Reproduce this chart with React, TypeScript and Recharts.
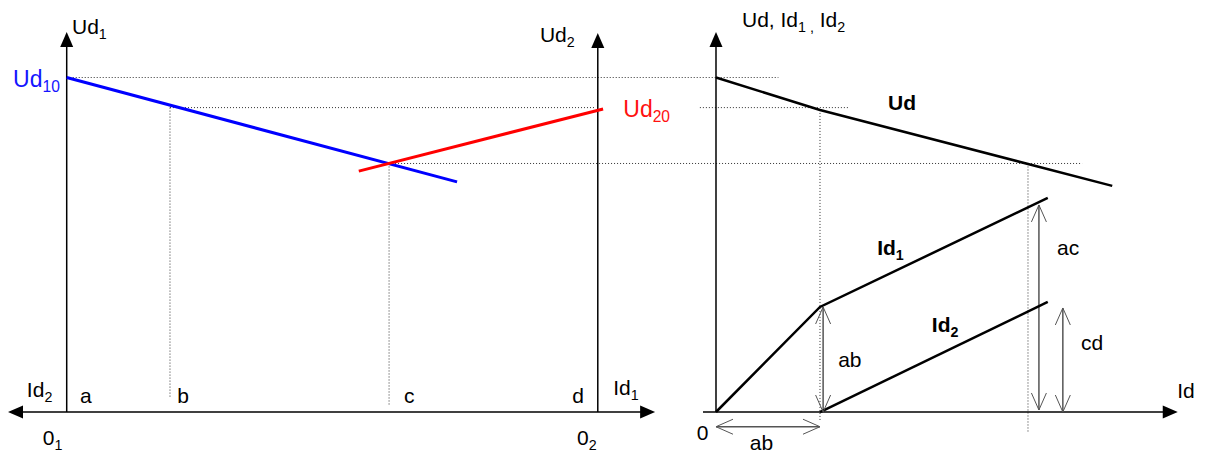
import React from "react";
import {
  ComposedChart,
  Line,
  ReferenceLine,
  Scatter,
  XAxis,
  YAxis,
} from "recharts";

// Shared vertical scale (Ud units), two horizontal scales: left panel (O1..O2) and right panel (Id)
const yDomain = [-1.405, 12.317];
const xLeftDomain = [-1.256, 21.49];
const xRightDomain = [-13.769, 9.4615];

// left panel characteristics
const ud1Line = [
  { x: 0, y: 10 },
  { x: 7.35, y: 6.88 },
];
const ud2Line = [
  { x: 5.5, y: 7.2 },
  { x: 10.1, y: 9.06 },
];

// right panel characteristics
const udLine = [
  { x: 0, y: 10 },
  { x: 2, y: 9.03 },
  { x: 7.62, y: 6.76 },
];
const id1Line = [
  { x: 0, y: 0 },
  { x: 2, y: 3.14 },
  { x: 6.38, y: 6.4 },
];
const id2Line = [
  { x: 2, y: 0 },
  { x: 6.38, y: 3.29 },
];

// axes, [from, to]
const leftAxes = [
  [{ x: -1.0, y: 0 }, { x: 11.0, y: 0 }],
  [{ x: 0, y: 0 }, { x: 0, y: 11.2 }],
  [{ x: 10, y: 0 }, { x: 10, y: 11.2 }],
];
const rightAxes = [
  [{ x: -0.25, y: 0 }, { x: 8.8, y: 0 }],
  [{ x: 0, y: 0 }, { x: 0, y: 11.2 }],
];

// dotted projection lines
const leftGuides = [
  [{ x: 0, y: 10 }, { x: 13.4, y: 10 }],
  [{ x: 1.945, y: 9.1 }, { x: 9.94, y: 9.1 }],
  [{ x: 6.07, y: 7.43 }, { x: 19.12, y: 7.43 }],
  [{ x: 1.945, y: 9.1 }, { x: 1.945, y: 0.45 }],
  [{ x: 6.07, y: 7.43 }, { x: 6.07, y: 0.2 }],
];
const rightGuides = [
  [{ x: -0.31, y: 9.1 }, { x: 2.54, y: 9.1 }],
  [{ x: 2, y: 9.03 }, { x: 2, y: -0.24 }],
  [{ x: 6, y: 7.43 }, { x: 6, y: -0.6 }],
];

// dimension arrows (ab, ac, cd, ab)
const dimLines = [
  [{ x: 2.06, y: 0 }, { x: 2.06, y: 3.14 }],
  [{ x: 6.21, y: 0.06 }, { x: 6.21, y: 6.19 }],
  [{ x: 6.67, y: 0 }, { x: 6.67, y: 3.11 }],
  [{ x: 0, y: -0.44 }, { x: 2, y: -0.44 }],
];
const dimHeads = [
  { x: 2.06, y: 3.14, dir: "up" },
  { x: 2.06, y: 0, dir: "down" },
  { x: 6.21, y: 6.19, dir: "up" },
  { x: 6.21, y: 0.06, dir: "down" },
  { x: 6.67, y: 3.11, dir: "up" },
  { x: 6.67, y: 0, dir: "down" },
  { x: 0, y: -0.44, dir: "left" },
  { x: 2, y: -0.44, dir: "right" },
];

const leftTips = [
  { x: -1.105, y: 0, dir: "left" },
  { x: 11.08, y: 0, dir: "right" },
  { x: 0, y: 11.36, dir: "up" },
  { x: 10, y: 11.33, dir: "up" },
];
const rightTips = [
  { x: 0, y: 11.36, dir: "up" },
  { x: 8.88, y: 0, dir: "right" },
];

const leftLabels = [
  { x: 0.1, y: 11.3, text: "Ud_{1}" },
  { x: -1.01, y: 9.72, text: "Ud_{10}", color: "#1414ff", size: 23 },
  { x: 8.91, y: 11.06, text: "Ud_{2}" },
  { x: 10.48, y: 8.82, text: "Ud_{20}", color: "#ff1010", size: 23 },
  { x: -0.75, y: 0.45, text: "Id_{2}" },
  { x: 0.25, y: 0.27, text: "a" },
  { x: 2.08, y: 0.27, text: "b" },
  { x: 6.35, y: 0.27, text: "c" },
  { x: 9.52, y: 0.27, text: "d" },
  { x: 10.29, y: 0.51, text: "Id_{1}" },
  { x: -0.45, y: -0.99, text: "0_{1}" },
  { x: 9.61, y: -0.99, text: "0_{2}" },
];
const rightLabels = [
  { x: 0.5, y: 11.51, text: "Ud, Id_{1 ,} Id_{2}" },
  { x: 3.31, y: 9.03, text: "Ud", bold: true },
  { x: 3.1, y: 4.69, text: "Id_{1}", bold: true },
  { x: 4.15, y: 2.39, text: "Id_{2}", bold: true },
  { x: 2.35, y: 1.35, text: "ab" },
  { x: 6.56, y: 4.69, text: "ac" },
  { x: 7.02, y: 1.85, text: "cd" },
  { x: 8.87, y: 0.42, text: "Id" },
  { x: -0.37, y: -0.84, text: "0" },
  { x: 0.65, y: -1.14, text: "ab" },
];

const FONT = "'Liberation Sans', Arial, sans-serif";
const DOT = "#333";

function FilledTip(props: any) {
  const { cx, cy, payload } = props;
  const L = 15;
  const W = 6.5;
  let pts = "";
  if (payload.dir === "up") pts = `${cx},${cy} ${cx - W},${cy + L} ${cx + W},${cy + L}`;
  else if (payload.dir === "left") pts = `${cx},${cy} ${cx + L},${cy - W} ${cx + L},${cy + W}`;
  else pts = `${cx},${cy} ${cx - L},${cy - W} ${cx - L},${cy + W}`;
  return <polygon points={pts} fill="#000" />;
}

function OpenHead(props: any) {
  const { cx, cy, payload } = props;
  const L = 17;
  const W = 7.5;
  let d = "";
  if (payload.dir === "up") d = `M${cx - W},${cy + L} L${cx},${cy} L${cx + W},${cy + L}`;
  else if (payload.dir === "down") d = `M${cx - W},${cy - L} L${cx},${cy} L${cx + W},${cy - L}`;
  else if (payload.dir === "left") d = `M${cx + L},${cy - W} L${cx},${cy} L${cx + L},${cy + W}`;
  else d = `M${cx - L},${cy - W} L${cx},${cy} L${cx - L},${cy + W}`;
  return <path d={d} fill="none" stroke="#555" strokeWidth={1} />;
}

function RichLabel(props: any) {
  const { cx, cy, payload } = props;
  const size = payload.size || 21;
  const pieces = String(payload.text).split(/_\{(.*?)\}/);
  let shift = 0;
  const spans: React.ReactNode[] = [];
  pieces.forEach((s, i) => {
    if (!s) return;
    const sub = i % 2 === 1;
    const target = sub ? size * 0.24 : 0;
    spans.push(
      <tspan key={i} dy={target - shift} fontSize={sub ? size * 0.68 : size}>
        {s}
      </tspan>
    );
    shift = target;
  });
  return (
    <text
      x={cx}
      y={cy}
      fill={payload.color || "#000"}
      fontFamily={FONT}
      fontWeight={payload.bold ? 700 : 400}
      fontSize={size}
    >
      {spans}
    </text>
  );
}

export default function App() {
  return (
    <div
      style={{
        position: "absolute",
        left: 0,
        top: 0,
        width: 1208,
        height: 459,
        background: "#fff",
      }}
    >
      <ComposedChart width={1208} height={459} margin={{ top: 0, right: 0, bottom: 0, left: 0 }}>
        <XAxis xAxisId="L" dataKey="x" type="number" domain={xLeftDomain} allowDataOverflow hide />
        <XAxis xAxisId="R" dataKey="x" type="number" domain={xRightDomain} allowDataOverflow hide />
        <YAxis dataKey="y" type="number" domain={yDomain} allowDataOverflow hide />

        {leftGuides.map((seg, i) => (
          <ReferenceLine
            key={`lg${i}`}
            xAxisId="L"
            segment={seg}
            stroke={DOT}
            strokeWidth={1}
            strokeDasharray="1 2"
            ifOverflow="visible"
          />
        ))}
        {rightGuides.map((seg, i) => (
          <ReferenceLine
            key={`rg${i}`}
            xAxisId="R"
            segment={seg}
            stroke={DOT}
            strokeWidth={1}
            strokeDasharray="1 2"
            ifOverflow="visible"
          />
        ))}
        {leftAxes.map((seg, i) => (
          <ReferenceLine key={`la${i}`} xAxisId="L" segment={seg} stroke="#000" strokeWidth={1.5} ifOverflow="visible" />
        ))}
        {rightAxes.map((seg, i) => (
          <ReferenceLine key={`ra${i}`} xAxisId="R" segment={seg} stroke="#000" strokeWidth={1.5} ifOverflow="visible" />
        ))}
        {dimLines.map((seg, i) => (
          <ReferenceLine key={`dl${i}`} xAxisId="R" segment={seg} stroke="#555" strokeWidth={1.5} ifOverflow="visible" />
        ))}

        <Line xAxisId="L" data={ud1Line} dataKey="y" type="linear" stroke="#0000ff" strokeWidth={3} dot={false} activeDot={false} isAnimationActive={false} />
        <Line xAxisId="L" data={ud2Line} dataKey="y" type="linear" stroke="#ff0000" strokeWidth={3} dot={false} activeDot={false} isAnimationActive={false} />
        <Line xAxisId="R" data={udLine} dataKey="y" type="linear" stroke="#000" strokeWidth={2.5} dot={false} activeDot={false} isAnimationActive={false} />
        <Line xAxisId="R" data={id1Line} dataKey="y" type="linear" stroke="#000" strokeWidth={2.5} dot={false} activeDot={false} isAnimationActive={false} />
        <Line xAxisId="R" data={id2Line} dataKey="y" type="linear" stroke="#000" strokeWidth={2.5} dot={false} activeDot={false} isAnimationActive={false} />

        <Scatter xAxisId="L" data={leftTips} dataKey="y" shape={FilledTip} isAnimationActive={false} />
        <Scatter xAxisId="R" data={rightTips} dataKey="y" shape={FilledTip} isAnimationActive={false} />
        <Scatter xAxisId="R" data={dimHeads} dataKey="y" shape={OpenHead} isAnimationActive={false} />
        <Scatter xAxisId="L" data={leftLabels} dataKey="y" shape={RichLabel} isAnimationActive={false} />
        <Scatter xAxisId="R" data={rightLabels} dataKey="y" shape={RichLabel} isAnimationActive={false} />
      </ComposedChart>
    </div>
  );
}
